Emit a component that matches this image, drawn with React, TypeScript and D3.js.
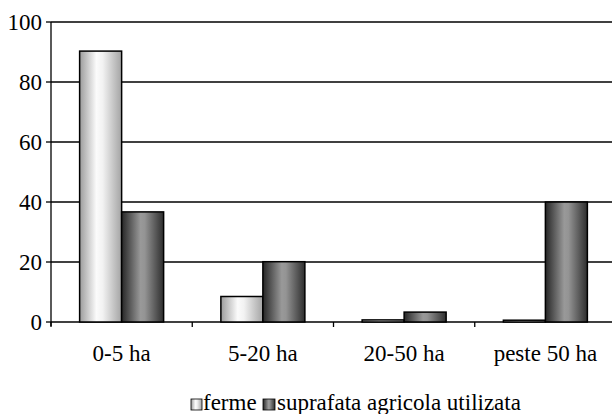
import React from 'react';
import * as d3 from 'd3';

const categories = ['0-5 ha', '5-20 ha', '20-50 ha', 'peste 50 ha'];
const seriesNames = ['ferme', 'suprafata agricola utilizata'];
const ferme = [90.3, 8.5, 0.7, 0.6];
const suprafata = [36.7, 20.1, 3.3, 40.0];
const yTicks = [0, 20, 40, 60, 80, 100];

const W = 612;
const H = 414;
const left = 51;
const top = 22;
const bottom = 322;
const plotRight = 616;

const fills = ['url(#gLight)', 'url(#gDark)'];
const FS = 23;

function Label(props: { x: number; y: number; anchor: string; dy?: string; children: React.ReactNode }) {
  return (
    <text
      x={props.x}
      y={props.y}
      textAnchor={props.anchor}
      dy={props.dy}
      fontSize={FS}
      fill="#000"
      style={{ fontFamily: 'Liberation Serif' }}
    >
      {props.children}
    </text>
  );
}

export default function App() {
  const x = d3.scaleBand<string>().domain(categories).range([left, plotRight]).padding(0);
  const groupW = 84;
  const inner = d3
    .scaleBand<string>()
    .domain(seriesNames)
    .range([(x.bandwidth() - groupW) / 2, (x.bandwidth() + groupW) / 2])
    .padding(0);
  const y = d3.scaleLinear().domain([0, 100]).range([bottom, top]);
  const series = [ferme, suprafata];

  return (
    <svg width={W} height={H} style={{ position: 'absolute', left: 0, top: 0, background: '#fff' }}>
      <defs>
        <linearGradient id="gLight" x1="0" x2="1" y1="0" y2="0">
          <stop offset="0%" stopColor="#9c9c9c" />
          <stop offset="40%" stopColor="#fbfbfb" />
          <stop offset="55%" stopColor="#f2f2f2" />
          <stop offset="100%" stopColor="#a4a4a4" />
        </linearGradient>
        <linearGradient id="gDark" x1="0" x2="1" y1="0" y2="0">
          <stop offset="0%" stopColor="#262626" />
          <stop offset="45%" stopColor="#999999" />
          <stop offset="55%" stopColor="#949494" />
          <stop offset="100%" stopColor="#2e2e2e" />
        </linearGradient>
      </defs>

      {/* gridlines */}
      {yTicks.map(t => (
        <line key={'g' + t} x1={left} x2={W} y1={y(t)} y2={y(t)} stroke="#000" strokeWidth={1.3} />
      ))}

      {/* y axis + ticks */}
      <line x1={left} x2={left} y1={top} y2={bottom + 4} stroke="#000" strokeWidth={1.3} />
      {yTicks.map(t => (
        <g key={'t' + t}>
          <line x1={left - 5} x2={left} y1={y(t)} y2={y(t)} stroke="#000" strokeWidth={1.3} />
          <Label x={42} y={y(t)} dy="0.35em" anchor="end">
            {t}
          </Label>
        </g>
      ))}

      {/* x ticks at category boundaries */}
      {categories.map(c => (
        <line
          key={'xt' + c}
          x1={x(c)!}
          x2={x(c)!}
          y1={bottom}
          y2={bottom + 5}
          stroke="#000"
          strokeWidth={1.3}
        />
      ))}

      {/* bars */}
      {categories.map((c, i) => (
        <g key={'b' + c} transform={`translate(${x(c)},0)`}>
          {series.map((s, k) => (
            <rect
              key={k}
              x={inner(seriesNames[k])!}
              y={y(s[i])}
              width={inner.bandwidth()}
              height={bottom - y(s[i])}
              fill={fills[k]}
              stroke="#000"
              strokeWidth={1.5}
            />
          ))}
        </g>
      ))}

      {/* category labels */}
      {categories.map(c => (
        <Label key={'l' + c} x={x(c)! + x.bandwidth() / 2} y={361} anchor="middle">
          {c}
        </Label>
      ))}

      {/* legend */}
      <g>
        <rect x={191} y={399} width={11} height={11} fill={fills[0]} stroke="#000" strokeWidth={0.8} />
        <Label x={203} y={410} anchor="start">
          {seriesNames[0]}
        </Label>
        <rect x={263} y={399} width={12} height={11} fill={fills[1]} stroke="#000" strokeWidth={0.8} />
        <Label x={277} y={410} anchor="start">
          {seriesNames[1]}
        </Label>
      </g>
    </svg>
  );
}
